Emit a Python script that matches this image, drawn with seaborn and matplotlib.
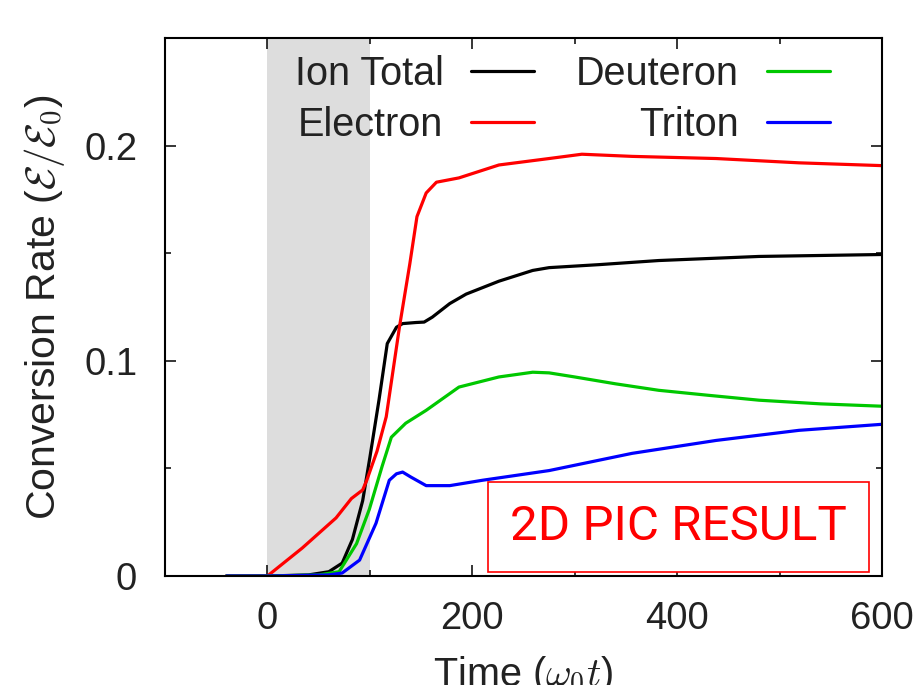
import numpy as np
import pandas as pd
import matplotlib
matplotlib.use('Agg')
import matplotlib.pyplot as plt
import seaborn as sns
from matplotlib.ticker import MultipleLocator

# Values (time in omega_0 t, conversion rate)
ion_t = [-40, 0, 40, 60, 73, 83, 93, 100, 109, 117, 126, 132, 145, 153, 161, 178,
         194, 226, 259, 275, 324, 382, 480, 600]
ion_y = [0, 0, 0.0005, 0.002, 0.006, 0.017, 0.035, 0.055, 0.082, 0.108, 0.1156,
         0.1173, 0.1178, 0.118, 0.1203, 0.1266, 0.131, 0.137, 0.142, 0.1433,
         0.1447, 0.1466, 0.1485, 0.1494]

ele_t = [-40, 0, 34, 67, 82, 93, 97, 107, 116, 129, 139, 146, 155, 165, 187, 226,
         275, 307, 356, 438, 519, 600]
ele_y = [0, 0, 0.013, 0.027, 0.036, 0.040, 0.0445, 0.058, 0.074, 0.116, 0.145,
         0.167, 0.178, 0.183, 0.185, 0.191, 0.194, 0.196, 0.195, 0.194, 0.192, 0.1907]

deu_t = [-40, 0, 50, 70, 87, 99.5, 112, 121, 135, 155, 187, 226, 259, 275, 300,
         340, 382, 430, 480, 540, 600]
deu_y = [0, 0, 0.0005, 0.002, 0.015, 0.031, 0.051, 0.0645, 0.071, 0.077, 0.0878,
         0.0925, 0.0947, 0.0944, 0.0925, 0.0893, 0.0863, 0.084, 0.0817, 0.080, 0.0789]

tri_t = [-40, 0, 60, 73, 90, 106, 119, 126, 132, 140, 155, 178, 210, 275, 356,
         438, 519, 600]
tri_y = [0, 0, 0.0005, 0.0014, 0.0074, 0.0245, 0.0445, 0.0475, 0.0483, 0.046,
         0.042, 0.042, 0.0445, 0.049, 0.057, 0.063, 0.0677, 0.0705]

series = [('Ion Total', ion_t, ion_y, 'black'),
          ('Electron', ele_t, ele_y, '#ff0000'),
          ('Deuteron', deu_t, deu_y, '#00c800'),
          ('Triton', tri_t, tri_y, '#0000ff')]

laser_window = (0, 100)

sns.set_style('ticks')
plt.rcParams['font.family'] = ['Liberation Sans', 'DejaVu Sans']
plt.rcParams['mathtext.fontset'] = 'cm'

fig = plt.figure(figsize=(9.16, 6.85), dpi=100)
ax = fig.add_axes([0.1801, 0.1591, 0.7828, 0.7854])

# shaded laser interaction window
ax.axvspan(*laser_window, color='#dddddd', lw=0, zorder=0)

for name, t, y, c in series:
    df = pd.DataFrame({'t': t, 'y': y})
    sns.lineplot(data=df, x='t', y='y', ax=ax, color=c, lw=2.3, label=name,
                 estimator=None, sort=False)

ax.set_xlim(-100, 600)
ax.set_ylim(0, 0.25)
ax.xaxis.set_major_locator(MultipleLocator(200))
ax.xaxis.set_minor_locator(MultipleLocator(100))
ax.set_yticks([0, 0.1, 0.2])
ax.set_yticklabels(['0', '0.1', '0.2'])
ax.yaxis.set_minor_locator(MultipleLocator(0.05))
ax.tick_params(which='both', direction='in', top=True, right=True,
               labelsize=27.5, labelcolor='#222222', width=1.1, color='black')
ax.tick_params(which='major', length=8)
ax.tick_params(which='minor', length=4)
ax.tick_params(axis='x', pad=18)
ax.tick_params(axis='y', pad=20)
for s in ax.spines.values():
    s.set_linewidth(1.5)
    s.set_color('black')

ax.set_xlabel(r'Time ($\omega_0 t$)', fontsize=28.5, color='#222222', labelpad=12)
ax.set_ylabel(r'Conversion Rate ($\mathcal{E}/\mathcal{E}_0$)', fontsize=29.5,
              color='#222222', labelpad=12)

leg = ax.legend(ncol=2, markerfirst=False, frameon=False, fontsize=28.5,
                loc='upper right', bbox_to_anchor=(0.9275, 0.968),
                handlelength=1.6, handletextpad=0.7, columnspacing=1.05,
                labelspacing=0.33, borderpad=0, borderaxespad=0)
for txt in leg.get_texts():
    txt.set_color('#222222')

ax.text(0.951, 0.0669, '2D PIC RESULT', transform=ax.transAxes, ha='right',
        va='baseline', fontsize=35.5, color='#ff0000', family='Roboto',
        bbox=dict(boxstyle='square,pad=0.45', fc='white', ec='#ff0000', lw=1.2))

fig.savefig('out.png', dpi=100)
